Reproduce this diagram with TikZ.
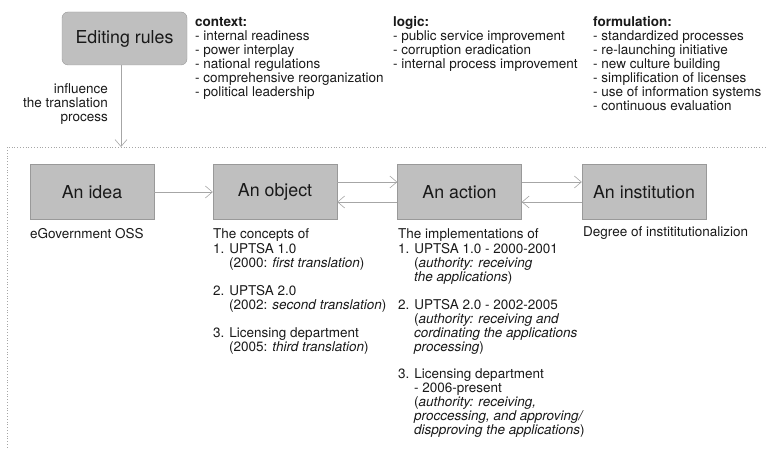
\documentclass[tikz,border=0pt]{standalone}
\usepackage{fontspec}
\setmainfont{TeX Gyre Heros}
\usetikzlibrary{arrows.meta}
\newcommand{\notelines}[2][l]{\begin{tabular}[t]{@{}#1@{}}#2\end{tabular}}
\newcommand{\indln}{\hspace*{16pt}}

\begin{document}
\begin{tikzpicture}[x=1pt, y=-1pt,
  >={Straight Barb[length=7pt,width=12pt]},
  stage/.style={draw=black!40, fill=gray!50, minimum width=124pt, minimum height=55pt,
    inner sep=0pt, text=black!90, font=\fontsize{17.8}{20}\selectfont},
  notes/.style={anchor=base west, inner sep=0pt, text=black!90,
    font=\fontsize{13.5}{13.8}\selectfont},
  link/.style={->, draw=black!35, line width=0.6pt}]
\useasboundingbox (0,0) rectangle (766,449);

% editing rules and their three groups
\node[stage, rounded corners=6pt, minimum width=125pt, minimum height=53pt] (rules) at (124.5,38.5) {Editing rules};
\node[notes] (context) at (195,27) {\notelines{\textbf{context:}\\- internal readiness\\- power interplay\\- national regulations\\- comprehensive reorganization\\- political leadership}};
\node[notes] (logic) at (393,27) {\notelines{\textbf{logic:}\\- public service improvement\\- corruption eradication\\- internal process improvement}};
\node[notes] (formulation) at (593,27) {\notelines{\textbf{formulation:}\\- standardized processes\\- re-launching initiative\\- new culture building\\- simplification of licenses\\- use of information systems\\- continuous evaluation}};
\node[notes, anchor=base east] (influence) at (108,94) {\notelines[r]{influence\\the translation\\process}};

% translation process
\draw[black!35, dotted, line width=0.8pt] (7,470) |- (780,147);
\coordinate (entry) at (121,147);
\draw[link] (rules.south -| entry) -- (entry);

\node[stage] (idea) at (92,192) {An idea};
\node[stage] (object) at (275,192) {An object};
\node[stage] (action) at (459.5,192) {An action};
\node[stage] (institution) at (644,192) {An institution};

\draw[link] (idea) -- (object);
\draw[link] ([yshift=10pt]object.east) -- ([yshift=10pt]action.west);
\draw[link] ([yshift=-10pt]action.west) -- ([yshift=-10pt]object.east);
\draw[link] ([yshift=10pt]action.east) -- ([yshift=10pt]institution.west);
\draw[link] ([yshift=-10pt]institution.west) -- ([yshift=-10pt]action.east);

\node[notes] (oss) at (30,239) {eGovernment OSS};
\node[notes] (concepts) at (213,239) {\notelines{The concepts of\\1. UPTSA 1.0\\\indln(2000: \textit{first translation})\\ \\2. UPTSA 2.0\\\indln(2002: \textit{second translation})\\ \\3. Licensing department\\\indln(2005: \textit{third translation})}};
\node[notes] (implementations) at (398,239) {\notelines{The implementations of\\1. UPTSA 1.0 - 2000-2001\\\indln(\textit{authority: receiving}\\\indln\textit{the applications})\\ \\2. UPTSA 2.0 - 2002-2005\\\indln(\textit{authority: receiving and}\\\indln\textit{cordinating the applications}\\\indln\textit{processing})\\ \\3. Licensing department\\\indln- 2006-present\\\indln(\textit{authority: receiving,}\\\indln\textit{proccessing, and approving/}\\\indln\textit{dispproving the applications})}};
\node[notes] (degree) at (583,237) {Degree of instititutionalizion};
\end{tikzpicture}
\end{document}
